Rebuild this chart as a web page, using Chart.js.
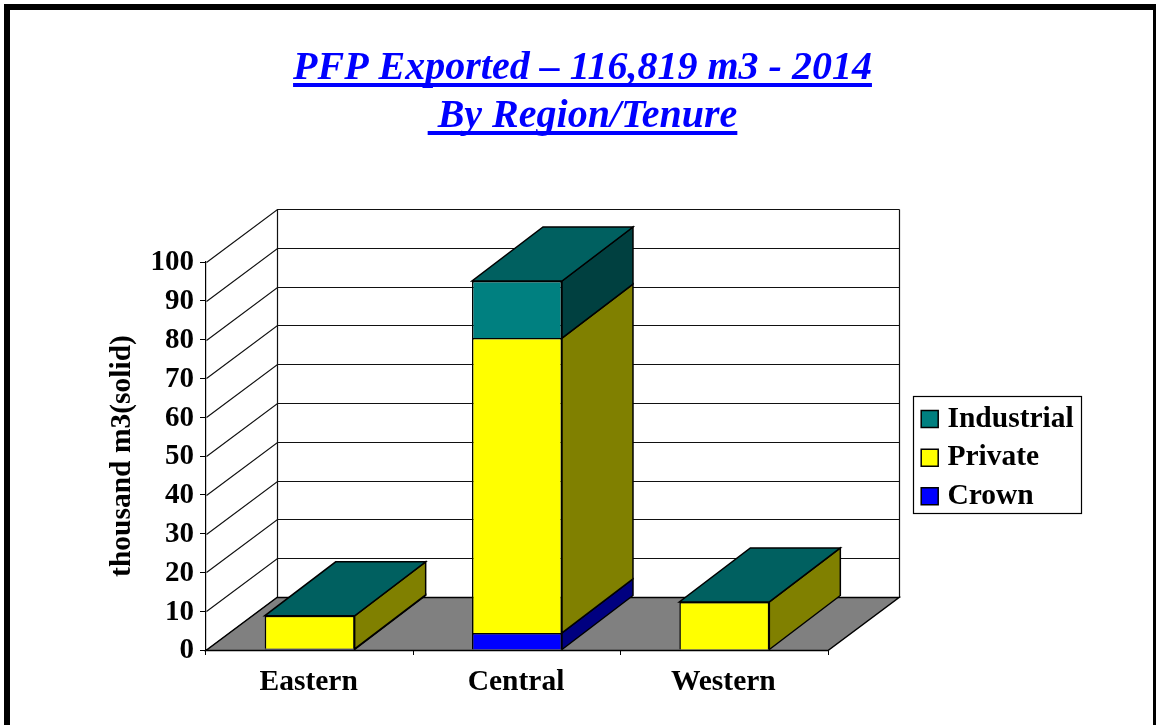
<!DOCTYPE html>
<html>
<head>
<meta charset="utf-8">
<style>
html,body{margin:0;padding:0;background:#fff;overflow:hidden;width:1156px;height:725px;}
#frame{position:absolute;left:4px;top:4px;width:1155px;height:800px;box-sizing:border-box;border:6px solid #000;}
canvas{position:absolute;left:0;top:0;}
</style>
<script src="https://cdn.jsdelivr.net/npm/chart.js@4/dist/chart.umd.min.js"></script>
</head>
<body>
<div id="frame"></div>
<canvas id="c" width="1156" height="725"></canvas>
<script>
const categories = ['Eastern', 'Central', 'Western'];
const crown = [0.3, 4.4, 0];
const privateTenure = [8.5, 76.0, 12.4];
const industrial = [0, 14.7, 0];
const titleLines = ['PFP Exported \u2013 116,819 m3 - 2014', ' By Region/Tenure'];
const yTitle = 'thousand m3(solid)';
const FONT = '"Liberation Serif", "Times New Roman", serif';
const DX = 71, DY = -53, BAR_DY = -54;

const shade = {
  front: ['#0000ff', '#ffff00', '#008080'],
  side: ['#000080', '#808000', '#004040'],
  top: '#006060'
};

function poly(ctx, pts, fill) {
  ctx.beginPath();
  pts.forEach((p, i) => i ? ctx.lineTo(p[0], p[1]) : ctx.moveTo(p[0], p[1]));
  ctx.closePath();
  if (fill) { ctx.fillStyle = fill; ctx.fill(); }
  ctx.strokeStyle = '#000';
  ctx.lineWidth = 1.5;
  ctx.stroke();
}

const threeD = {
  id: 'threeD',
  afterLayout(chart) {
    const lg = chart.legend;
    lg.left = 917.5; lg.top = 395; lg.right = 1081; lg.bottom = 600;
    lg.width = lg.right - lg.left; lg.height = lg.bottom - lg.top;
    const t = chart.titleBlock;
    t.left = 0; t.right = 1165; t.width = 1165;
  },
  beforeDraw(chart) {
    const ctx = chart.ctx;
    ctx.save();
    ctx.strokeStyle = '#000'; ctx.lineWidth = 1.2;
    ctx.strokeRect(913.5, 396.5, 168, 117);
    ctx.restore();
  },
  beforeDatasetsDraw(chart) {
    const ctx = chart.ctx, y = chart.scales.y, a = chart.chartArea;
    ctx.save();
    // walls and gridlines
    y.ticks.forEach(t => {
      const py = Math.round(y.getPixelForValue(t.value)) + 0.5;
      ctx.beginPath();
      ctx.moveTo(a.left + .5, py);
      ctx.lineTo(a.left + DX + .5, py + DY);
      ctx.lineTo(a.right + DX + .5, py + DY);
      ctx.strokeStyle = '#111'; ctx.lineWidth = 1.2;
      ctx.stroke();
    });
    ctx.beginPath();
    ctx.moveTo(a.left + DX + .5, a.top + DY + .5);
    ctx.lineTo(a.left + DX + .5, a.bottom + DY + .5);
    ctx.moveTo(a.right + DX + .5, a.top + DY + .5);
    ctx.lineTo(a.right + DX + .5, a.bottom + DY + .5);
    ctx.stroke();
    // floor
    const b = a.bottom + .5;
    poly(ctx, [[a.left, b], [a.right, b], [a.right + DX, b + DY], [a.left + DX, b + DY]], '#808080');
    // bar side and top faces
    categories.forEach((_, j) => {
      let topY = null, rightX = 0, leftX = 0;
      chart.data.datasets.forEach((ds, i) => {
        const el = chart.getDatasetMeta(i).data[j];
        const r = el.x + el.width / 2, l = el.x - el.width / 2;
        rightX = r; leftX = l;
        if (ds.data[j] > 0) {
          poly(ctx, [[r, el.base], [r + DX, el.base + BAR_DY], [r + DX, el.y + BAR_DY], [r, el.y]], shade.side[i]);
          topY = el.y;
        }
      });
      poly(ctx, [[leftX, topY], [rightX, topY], [rightX + DX, topY + BAR_DY], [leftX + DX, topY + BAR_DY]], shade.top);
    });
    ctx.restore();
  },
  afterDraw(chart) {
    const ctx = chart.ctx;
    ctx.save();
    ctx.font = 'italic bold 40px ' + FONT;
    ctx.fillStyle = '#0000ff';
    titleLines.forEach((line, i) => {
      const w = ctx.measureText(line).width;
      ctx.fillRect(582.5 - w / 2, 83 + i * 48, w, 4);
    });
    ctx.restore();
  }
};

new Chart(document.getElementById('c'), {
  type: 'bar',
  data: {
    labels: categories,
    datasets: [
      { label: 'Crown', data: crown, backgroundColor: shade.front[0] },
      { label: 'Private', data: privateTenure, backgroundColor: shade.front[1] },
      { label: 'Industrial', data: industrial, backgroundColor: shade.front[2] }
    ].map(d => Object.assign(d, { borderColor: '#000', borderWidth: 1.5, categoryPercentage: 1, barPercentage: 0.434 }))
  },
  plugins: [threeD],
  options: {
    responsive: false,
    animation: false,
    devicePixelRatio: 1,
    layout: { padding: { left: 0, top: 0, right: 328, bottom: 0 } },
    plugins: {
      tooltip: { enabled: false },
      title: {
        display: true,
        text: titleLines,
        color: '#0000ff',
        font: { family: FONT, size: 40, style: 'italic', weight: 'bold', lineHeight: 48 / 40 },
        padding: { top: 45, bottom: 121 }
      },
      legend: {
        display: true,
        position: 'chartArea',
        align: 'start',
        reverse: true,
        labels: {
          usePointStyle: true,
          pointStyle: 'rect',
          boxWidth: 6,
          boxHeight: 17,
          padding: 9.2,
          color: '#000',
          font: { family: FONT, size: 29.5, weight: 'bold' }
        }
      }
    },
    scales: {
      x: {
        stacked: true,
        afterFit(s) { s.height = 75; },
        border: { display: true, color: '#000', width: 1.2 },
        grid: { drawOnChartArea: false, color: '#000', tickLength: 5 },
        ticks: { color: '#000', padding: 10, labelOffset: -1, maxRotation: 0, autoSkip: false, font: { family: FONT, size: 29.5, weight: 'bold' } }
      },
      y: {
        stacked: true,
        min: 0,
        max: 100,
        afterFit(s) { s.width = 206; },
        border: { display: true, color: '#000', width: 1.2 },
        grid: { drawOnChartArea: false, color: '#000', tickLength: 6 },
        ticks: { stepSize: 10, color: '#000', padding: 6, labelOffset: 1, font: { family: FONT, size: 29, weight: 'bold' } },
        title: {
          display: true,
          text: yTitle,
          color: '#000',
          font: { family: FONT, size: 29.5, weight: 'bold', lineHeight: 1.2 },
          padding: { top: 105, bottom: 0 }
        }
      }
    }
  }
});
</script>
</body>
</html>
